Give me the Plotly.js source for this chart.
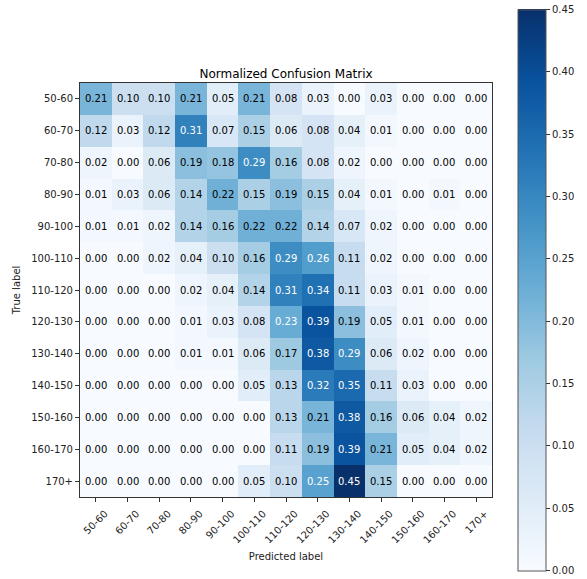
<!DOCTYPE html>
<html>
<head>
<meta charset="utf-8">
<script src="https://cdn.plot.ly/plotly-3.0.1.min.js"></script>
<style>html,body{margin:0;padding:0;background:#fff;}#chart{width:587px;height:579px;}</style>
</head>
<body>
<div id="chart"></div>
<script>
const labels = ["50-60","60-70","70-80","80-90","90-100","100-110","110-120","120-130","130-140","140-150","150-160","160-170","170+"];
const row_50_60   = [0.21,0.10,0.10,0.21,0.05,0.21,0.08,0.03,0.00,0.03,0.00,0.00,0.00];
const row_60_70   = [0.12,0.03,0.12,0.31,0.07,0.15,0.06,0.08,0.04,0.01,0.00,0.00,0.00];
const row_70_80   = [0.02,0.00,0.06,0.19,0.18,0.29,0.16,0.08,0.02,0.00,0.00,0.00,0.00];
const row_80_90   = [0.01,0.03,0.06,0.14,0.22,0.15,0.19,0.15,0.04,0.01,0.00,0.01,0.00];
const row_90_100  = [0.01,0.01,0.02,0.14,0.16,0.22,0.22,0.14,0.07,0.02,0.00,0.00,0.00];
const row_100_110 = [0.00,0.00,0.02,0.04,0.10,0.16,0.29,0.26,0.11,0.02,0.00,0.00,0.00];
const row_110_120 = [0.00,0.00,0.00,0.02,0.04,0.14,0.31,0.34,0.11,0.03,0.01,0.00,0.00];
const row_120_130 = [0.00,0.00,0.00,0.01,0.03,0.08,0.23,0.39,0.19,0.05,0.01,0.00,0.00];
const row_130_140 = [0.00,0.00,0.00,0.01,0.01,0.06,0.17,0.38,0.29,0.06,0.02,0.00,0.00];
const row_140_150 = [0.00,0.00,0.00,0.00,0.00,0.05,0.13,0.32,0.35,0.11,0.03,0.00,0.00];
const row_150_160 = [0.00,0.00,0.00,0.00,0.00,0.00,0.13,0.21,0.38,0.16,0.06,0.04,0.02];
const row_160_170 = [0.00,0.00,0.00,0.00,0.00,0.00,0.11,0.19,0.39,0.21,0.05,0.04,0.02];
const row_170p    = [0.00,0.00,0.00,0.00,0.00,0.05,0.10,0.25,0.45,0.15,0.00,0.00,0.00];
const colorbarTicks = [0.00,0.05,0.10,0.15,0.20,0.25,0.30,0.35,0.40,0.45];

const z = [row_50_60,row_60_70,row_70_80,row_80_90,row_90_100,row_100_110,row_110_120,
           row_120_130,row_130_140,row_140_150,row_150_160,row_160_170,row_170p];

const blues = [
  [0.0,'#f7fbff'],[0.125,'#deebf7'],[0.25,'#c6dbef'],[0.375,'#9ecae1'],
  [0.5,'#6baed6'],[0.625,'#4292c6'],[0.75,'#2171b5'],[0.875,'#08519c'],[1.0,'#08306b']
];
const zmax = 0.45;
const font = 'DejaVu Sans, sans-serif';

const annotations = [];
z.forEach((row, i) => {
  row.forEach((v, j) => {
    annotations.push({
      x: labels[j], y: labels[i], xref: 'x', yref: 'y',
      text: v.toFixed(2), showarrow: false,
      font: {family: font, size: 10, color: v > zmax / 2 ? '#ffffff' : '#000000'}
    });
  });
});

const trace = {
  type: 'heatmap', x: labels, y: labels, z: z,
  colorscale: blues, zmin: 0, zmax: zmax, xgap: 0, ygap: 0,
  hoverinfo: 'x+y+z',
  colorbar: {
    x: 1.063, xanchor: 'left', xref: 'paper',
    y: 0.5, yanchor: 'middle',
    len: 561, lenmode: 'pixels', thickness: 28, thicknessmode: 'pixels',
    outlinewidth: 1, outlinecolor: '#555',
    tickvals: colorbarTicks, ticktext: colorbarTicks.map(v => v.toFixed(2)),
    ticks: 'outside', ticklen: 4, tickcolor: '#333',
    tickfont: {family: font, size: 10, color: '#222'},
    xpad: 0, ypad: 0
  }
};

const layout = {
  width: 587, height: 579,
  margin: {l: 80, r: 93, t: 83, b: 82},
  paper_bgcolor: '#fff', plot_bgcolor: '#fff',
  title: {text: 'Normalized Confusion Matrix', font: {family: font, size: 12, color: '#000'},
          x: 0.5, xref: 'paper', xanchor: 'center', y: 1, yref: 'paper', yanchor: 'bottom', pad: {b: 5}},
  xaxis: {
    type: 'category', tickvals: labels, ticktext: labels, tickangle: -45,
    ticklabelshift: 9, ticklabelstandoff: 2,
    showline: true, mirror: true, linecolor: '#333', linewidth: 1,
    ticks: 'outside', ticklen: 4, tickcolor: '#333', showgrid: false, zeroline: false,
    tickfont: {family: font, size: 10, color: '#222'},
    title: {text: 'Predicted label', font: {family: font, size: 10, color: '#222'}, standoff: 8},
    fixedrange: true
  },
  yaxis: {
    type: 'category', tickvals: labels, ticktext: labels, autorange: 'reversed',
    showline: true, mirror: true, linecolor: '#333', linewidth: 1,
    ticks: 'outside', ticklen: 4, tickcolor: '#333', showgrid: false, zeroline: false,
    tickfont: {family: font, size: 10, color: '#222'},
    title: {text: 'True label', font: {family: font, size: 10, color: '#222'}, standoff: 8},
    fixedrange: true
  },
  annotations: annotations
};

Plotly.newPlot('chart', [trace], layout, {displayModeBar: false, staticPlot: true});
</script>
</body>
</html>
